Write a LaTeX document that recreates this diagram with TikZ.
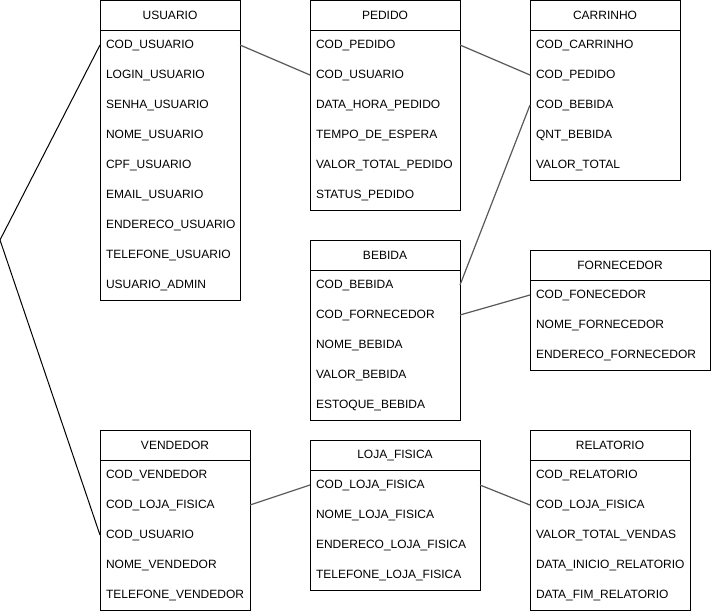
\documentclass[tikz,border=0pt]{standalone}
\usepackage{fontspec}
\setmainfont{Liberation Sans}
\usepackage{tikz}
\usetikzlibrary{positioning}
\tikzset{
  titulo/.style={draw, line width=1pt, minimum height=30pt, anchor=north west,
    inner sep=0pt, outer sep=0pt, font=\fontsize{12}{14}\selectfont},
  campo/.style={minimum height=30pt, anchor=north west, inner xsep=6pt,
    inner ysep=0pt, outer sep=0pt, align=left, font=\fontsize{12}{14}\selectfont},
  liga/.style={draw=black!65, line width=1.2pt},
}

\begin{document}
\begin{tikzpicture}[x=1pt, y=-1pt, line width=1pt]
  \useasboundingbox (0,0) rectangle (711,611);

  % USUARIO
  \node[titulo, minimum width=140pt] (usuario) at (100,0) {USUARIO};
  \draw (usuario.south west) rectangle ++(140,270);
  \foreach \campo [count=\i] in {COD\_USUARIO, LOGIN\_USUARIO, SENHA\_USUARIO,
      NOME\_USUARIO, CPF\_USUARIO, EMAIL\_USUARIO, ENDERECO\_USUARIO,
      TELEFONE\_USUARIO, USUARIO\_ADMIN}
    \node[campo, text width=128pt] (usuario-\i) at (100,30*\i) {\campo};

  % PEDIDO
  \node[titulo, minimum width=150pt] (pedido) at (310,0) {PEDIDO};
  \draw (pedido.south west) rectangle ++(150,180);
  \foreach \campo [count=\i] in {COD\_PEDIDO, COD\_USUARIO, DATA\_HORA\_PEDIDO,
      TEMPO\_DE\_ESPERA, VALOR\_TOTAL\_PEDIDO, STATUS\_PEDIDO}
    \node[campo, text width=138pt] (pedido-\i) at (310,30*\i) {\campo};

  % CARRINHO
  \node[titulo, minimum width=150pt] (carrinho) at (530,0) {CARRINHO};
  \draw (carrinho.south west) rectangle ++(150,150);
  \foreach \campo [count=\i] in {COD\_CARRINHO, COD\_PEDIDO, COD\_BEBIDA,
      QNT\_BEBIDA, VALOR\_TOTAL}
    \node[campo, text width=138pt] (carrinho-\i) at (530,30*\i) {\campo};

  % BEBIDA
  \node[titulo, minimum width=150pt] (bebida) at (310,240) {BEBIDA};
  \draw (bebida.south west) rectangle ++(150,150);
  \foreach \campo [count=\i] in {COD\_BEBIDA, COD\_FORNECEDOR, NOME\_BEBIDA,
      VALOR\_BEBIDA, ESTOQUE\_BEBIDA}
    \node[campo, text width=138pt] (bebida-\i) at (310,240+30*\i) {\campo};

  % FORNECEDOR
  \node[titulo, minimum width=180pt] (fornecedor) at (530,250) {FORNECEDOR};
  \draw (fornecedor.south west) rectangle ++(180,90);
  \foreach \campo [count=\i] in {COD\_FONECEDOR, NOME\_FORNECEDOR,
      ENDERECO\_FORNECEDOR}
    \node[campo, text width=168pt] (fornecedor-\i) at (530,250+30*\i) {\campo};

  % VENDEDOR
  \node[titulo, minimum width=150pt] (vendedor) at (100,430) {VENDEDOR};
  \draw (vendedor.south west) rectangle ++(150,150);
  \foreach \campo [count=\i] in {COD\_VENDEDOR, COD\_LOJA\_FISICA, COD\_USUARIO,
      NOME\_VENDEDOR, TELEFONE\_VENDEDOR}
    \node[campo, text width=138pt] (vendedor-\i) at (100,430+30*\i) {\campo};

  % LOJA_FISICA
  \node[titulo, minimum width=170pt] (loja) at (310,440) {LOJA\_FISICA};
  \draw (loja.south west) rectangle ++(170,120);
  \foreach \campo [count=\i] in {COD\_LOJA\_FISICA, NOME\_LOJA\_FISICA,
      ENDERECO\_LOJA\_FISICA, TELEFONE\_LOJA\_FISICA}
    \node[campo, text width=158pt] (loja-\i) at (310,440+30*\i) {\campo};

  % RELATORIO
  \node[titulo, minimum width=160pt] (relatorio) at (530,430) {RELATORIO};
  \draw (relatorio.south west) rectangle ++(160,150);
  \foreach \campo [count=\i] in {COD\_RELATORIO, COD\_LOJA\_FISICA,
      VALOR\_TOTAL\_VENDAS, DATA\_INICIO\_RELATORIO, DATA\_FIM\_RELATORIO}
    \node[campo, text width=148pt] (relatorio-\i) at (530,430+30*\i) {\campo};

  % ligacoes
  \coordinate (canto) at (0,240);
  \draw (usuario-1.west) -- (canto) -- (vendedor-3.west);
  \draw[liga] (usuario-1.east) -- (pedido-2.west);
  \draw[liga] (pedido-1.east) -- (carrinho-2.west);
  \draw[liga] (bebida-1.east) -- (carrinho-3.west);
  \draw[liga] (bebida-2.east) -- (fornecedor-1.west);
  \draw[liga] (vendedor-2.east) -- (loja-1.west);
  \draw[liga] (loja-1.east) -- (relatorio-2.west);
\end{tikzpicture}
\end{document}
